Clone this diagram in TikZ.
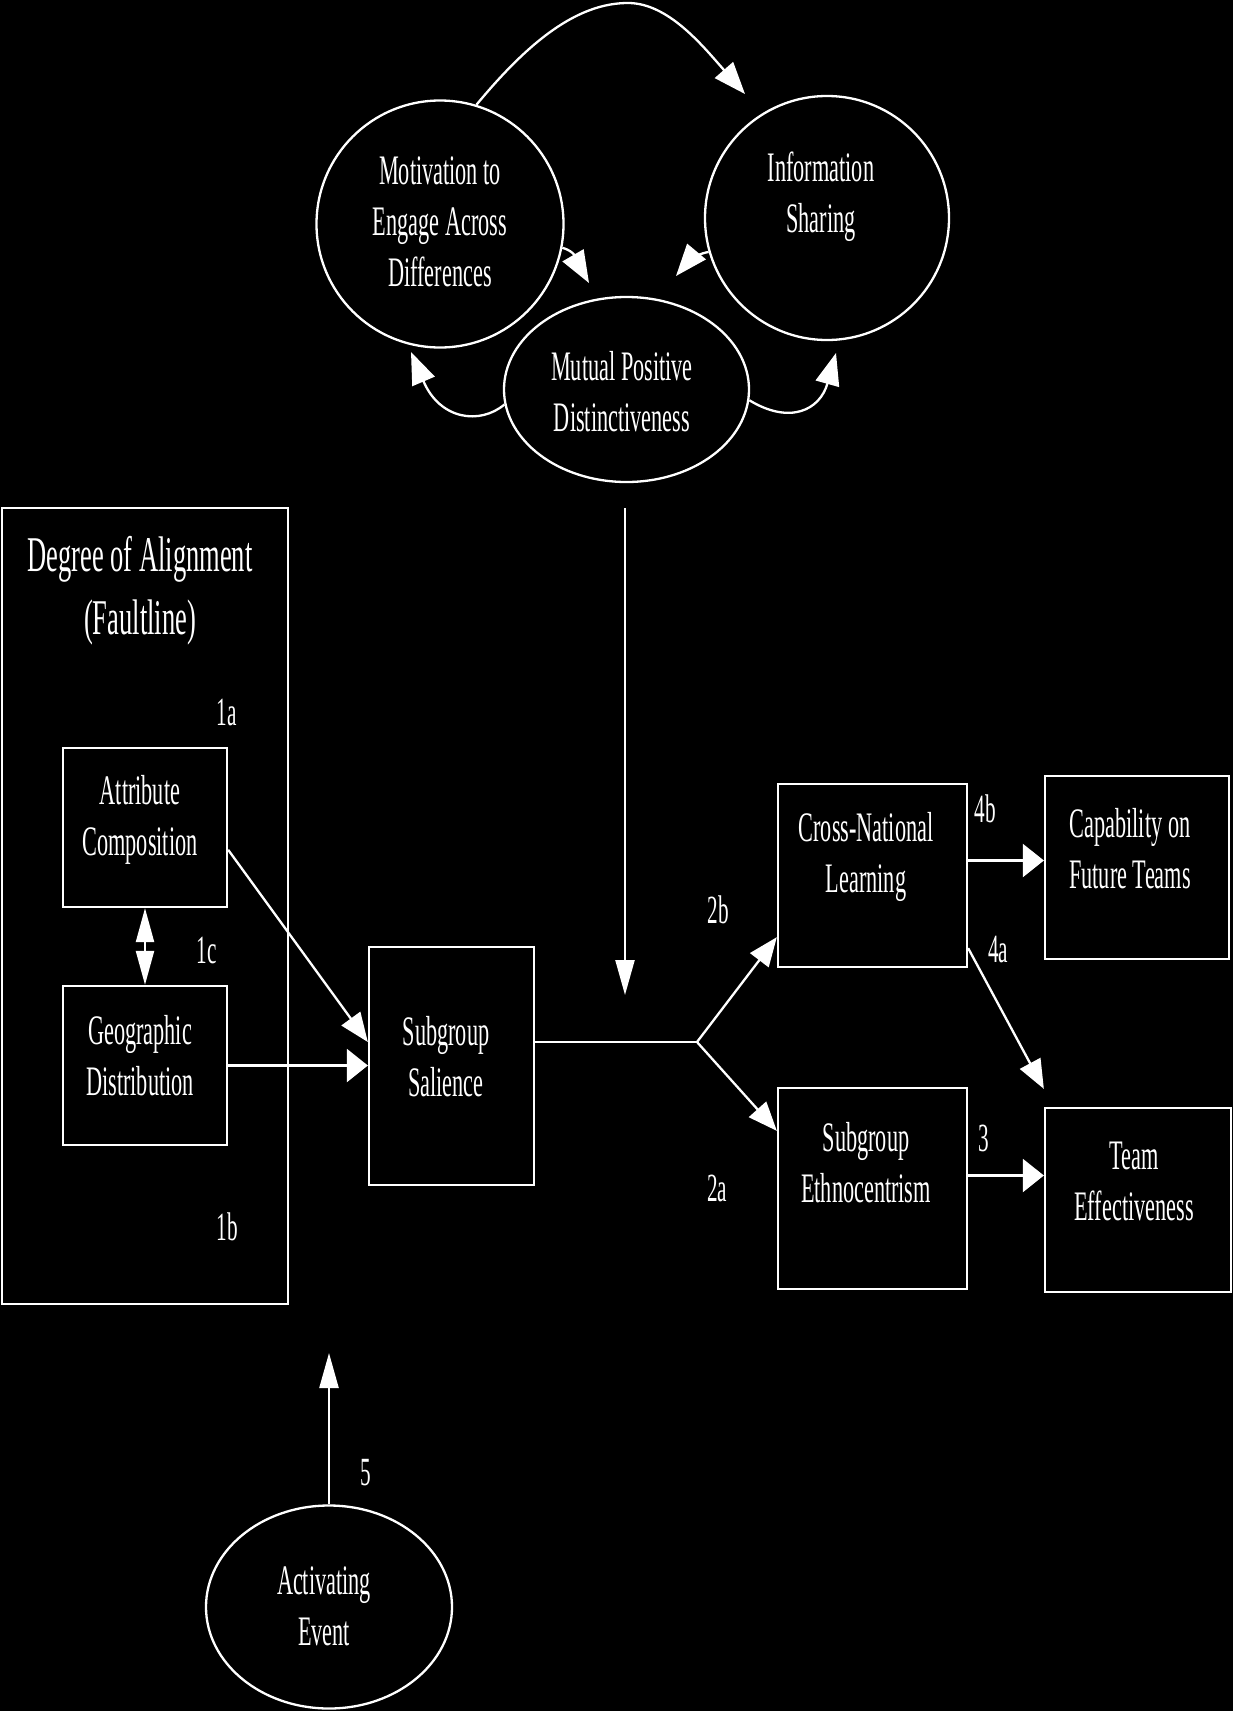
\documentclass[tikz,border=0pt]{standalone}
\usepackage{fontspec}
\setmainfont[FakeStretch=0.53]{Liberation Serif}
\usetikzlibrary{arrows.meta,shapes.geometric,calc}
\begin{document}
\begin{tikzpicture}[x=1pt,y=1pt,
  wl/.style={draw=white, line width=2.3pt},
  box/.style={wl, rectangle, inner sep=0pt},
  roundnode/.style={wl, circle, inner sep=0pt},
  ovalnode/.style={wl, ellipse, inner sep=0pt},
  txt/.style={text=white, align=center, font=\fontsize{42}{51}\selectfont, inner sep=0pt},
  lbl/.style={text=white, font=\fontsize{40}{48}\selectfont, inner sep=0pt},
  conn/.style={draw=white, line width=2.3pt},
  hh/.style={-{Triangle[length=21pt,width=33pt]}},
  vv/.style={-{Triangle[length=35pt,width=19pt]}},
  dd/.style={-{Triangle[length=29pt,width=23pt]}},
  cc/.style={-{Triangle[length=32pt,width=24pt]}},
  bidir/.style={{Triangle[length=34pt,width=18pt]}-{Triangle[length=34pt,width=18pt]}}
]
\fill[black] (0,0) rectangle (1233,-1711);
\useasboundingbox (0,0) rectangle (1233,-1711);

% top cycle
\node[roundnode, minimum size=247pt] (mot) at (440,-224) {};
\node[txt] (motT) at (440,-222) {Motivation to\\Engage Across\\Differences};
\node[roundnode, minimum size=244pt] (info) at (827,-218) {};
\node[txt] (infoT) at (821,-197) {Information\\Sharing};
\node[ovalnode, minimum width=245pt, minimum height=185pt] (mpd) at (626.5,-389.5) {};
\node[txt] (mpdT) at (622,-392) {Mutual Positive\\Distinctiveness};

\coordinate (tTop) at (745,-94);
\coordinate (tA) at (589,-283);
\coordinate (tB) at (676,-276);
\coordinate (tC) at (411,-352);
\coordinate (tD) at (836,-353);
\draw[conn, cc] (mot.73) .. controls (530,-40) and (578,-3) .. (628,-3) .. controls (668,-3) and (702,-45) .. (tTop);
\draw[conn, cc] (mot.-11) to[out=-15, in=120] (tA);
\draw[conn, cc] (info.196) to[out=190, in=50] (tB);
\draw[conn, cc] (mpd.187) .. controls (480,-425) and (440,-420) .. (tC);
\draw[conn, cc] (mpd.-5) .. controls (790,-425) and (820,-410) .. (tD);

% vertical moderator arrow
\coordinate (vtop) at (625,-508);
\coordinate (vbot) at (625,-995);
\draw[conn, vv] (vtop) -- (vbot);

% faultline box
\node[box, minimum width=286pt, minimum height=796pt] (big) at (145,-906) {};
\node[txt, font=\fontsize{50}{63}\selectfont] (title) at (140,-591) {Degree of Alignment\\(Faultline)};
\node[lbl] (l1a) at (227,-712) {1a};
\node[lbl] (l1c) at (207,-950) {1c};
\node[lbl] (l1b) at (227,-1227) {1b};

\node[box, minimum width=164pt, minimum height=159pt] (attr) at (145,-827.5) {};
\node[txt] (attrT) at (140,-820) {Attribute\\Composition};
\node[box, minimum width=164pt, minimum height=159pt] (geo) at (145,-1065.5) {};
\node[txt] (geoT) at (140,-1056) {Geographic\\Distribution};
\draw[conn, bidir] (attr.south) -- (geo.north);

\node[box, minimum width=165pt, minimum height=238pt] (sal) at (451.5,-1066) {};
\node[txt] (salT) at (446,-1057) {Subgroup\\Salience};
\draw[conn, dd] (attr.-15) -- (sal.164);
\draw[conn, hh] (geo.east) -- (sal.west |- geo.east);

% outcomes
\node[box, minimum width=189pt, minimum height=183pt] (cnl) at (872.5,-875.5) {};
\node[txt] (cnlT) at (866,-857) {Cross-National\\Learning};
\node[box, minimum width=189pt, minimum height=201pt] (eth) at (872.5,-1188.5) {};
\node[txt] (ethT) at (866,-1163) {Subgroup\\Ethnocentrism};
\node[box, minimum width=184pt, minimum height=183pt] (cap) at (1137,-867.5) {};
\node[txt] (capT) at (1130,-849) {Capability on\\Future Teams};
\node[box, minimum width=186pt, minimum height=184pt] (te) at (1138,-1200) {};
\node[txt] (teT) at (1134,-1181) {Team\\Effectiveness};

\coordinate (br) at (697,-1042);
\draw[conn] (sal.east |- br) -- (br);
\draw[conn, dd] (br) -- ($(cnl.south west)+(0,31)$);
\draw[conn, dd] (br) -- ($(eth.north west)+(0,-44)$);
\coordinate (p4b) at ($(cnl.east)+(0,15)$);
\draw[conn, hh] (p4b) -- (p4b -| cap.west);
\coordinate (p3) at ($(eth.east)+(0,13)$);
\draw[conn, hh] (p3) -- (p3 -| te.west);
\draw[conn, dd] ($(cnl.south east)+(0,20)$) -- ($(te.north west)+(0,18)$);

\node[lbl] (l2b) at (718,-910) {2b};
\node[lbl] (l2a) at (717,-1188) {2a};
\node[lbl] (l4b) at (985,-809) {4b};
\node[lbl] (l4a) at (998,-950) {4a};
\node[lbl] (l3) at (984,-1138) {3};

% activating event
\node[ovalnode, minimum width=246pt, minimum height=203pt] (act) at (329,-1607) {};
\node[txt] (actT) at (324,-1606) {Activating\\Event};
\coordinate (a5) at (329,-1353);
\draw[conn, vv] (act.north) -- (a5);
\node[lbl] (l5) at (366,-1473) {5};
\end{tikzpicture}
\end{document}
